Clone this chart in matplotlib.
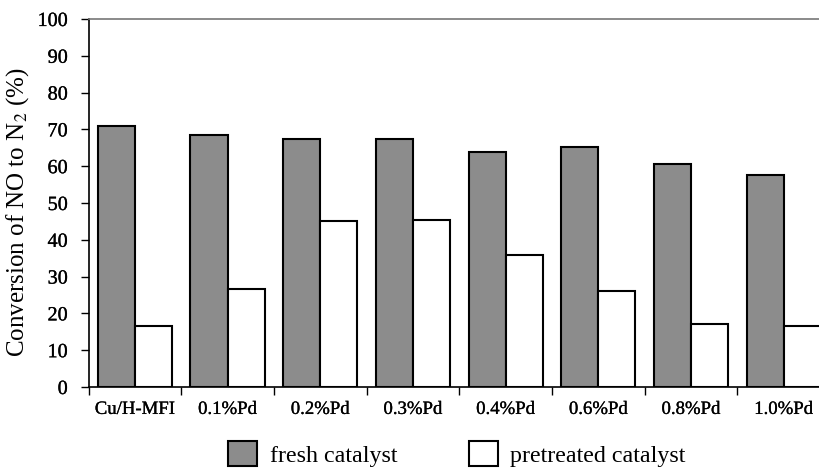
import matplotlib.pyplot as plt
from matplotlib.patches import Patch
import matplotlib.patheffects as pe
import numpy as np

plt.rcParams['font.family'] = ['Liberation Serif', 'DejaVu Serif']
plt.rcParams['mathtext.fontset'] = 'stix'

categories = ['Cu/H-MFI', '0.1%Pd', '0.2%Pd', '0.3%Pd', '0.4%Pd', '0.6%Pd', '0.8%Pd', '1.0%Pd']
fresh = [71.0, 68.6, 67.5, 67.5, 63.8, 65.1, 60.6, 57.5]
pretreated = [16.7, 26.5, 45.0, 45.3, 36.0, 26.0, 17.0, 16.5]

W, H = 819, 469
fig = plt.figure(figsize=(W / 100, H / 100), dpi=100)
# left spine at x=88.5, 0 at y=387, 100 at y=19, the last group runs past the image edge
ax = fig.add_axes([88.5 / W, 1 - 387 / H, (830 - 88.5) / W, (387 - 19) / H])

thick = [pe.withStroke(linewidth=0.2, foreground='black')]

x = np.arange(len(categories))
bw = 0.40
ax.bar(x - bw / 2, fresh, bw, color='#8c8c8c', edgecolor='black', linewidth=1.5)
ax.bar(x + bw / 2, pretreated, bw, color='white', edgecolor='black', linewidth=1.5)

ax.set_xlim(-0.5, len(categories) - 0.5)
ax.set_ylim(0, 100)
ax.set_yticks(np.arange(0, 101, 10))
ax.set_xticks(x)
ax.set_xticklabels(categories, fontsize=13.5)
ax.set_xticks(np.arange(-0.5, len(categories)), minor=True)
ax.tick_params(axis='x', which='major', length=0, pad=10)
ax.tick_params(axis='x', which='minor', length=6, width=1, direction='out')
ax.tick_params(axis='y', labelsize=14.5, length=6, width=1, direction='out', pad=9)
for t in ax.get_xticklabels() + ax.get_yticklabels():
    t.set_path_effects(thick)

ax.spines['right'].set_visible(False)
ax.spines['top'].set_color('#777777')
ax.spines['top'].set_linewidth(1.2)
ax.spines['left'].set_linewidth(1.2)
ax.spines['bottom'].set_linewidth(1.2)

ax.set_ylabel('Conversion of NO to N$_2$ (%)', fontsize=18, labelpad=6)
ax.yaxis.set_label_coords(-0.078, 0.474)

handles = [Patch(facecolor='#8c8c8c', edgecolor='black', linewidth=1.5, label='fresh catalyst'),
           Patch(facecolor='white', edgecolor='black', linewidth=1.5, label='pretreated catalyst')]
fig.legend(handles=handles, loc='center', bbox_to_anchor=(457 / W, 1 - 454 / H), ncol=2,
           frameon=False, fontsize=17.3, handlelength=1.2, handleheight=1.2,
           handletextpad=0.52, columnspacing=3.0, borderaxespad=0, borderpad=0)

fig.savefig('out.png', dpi=100)
